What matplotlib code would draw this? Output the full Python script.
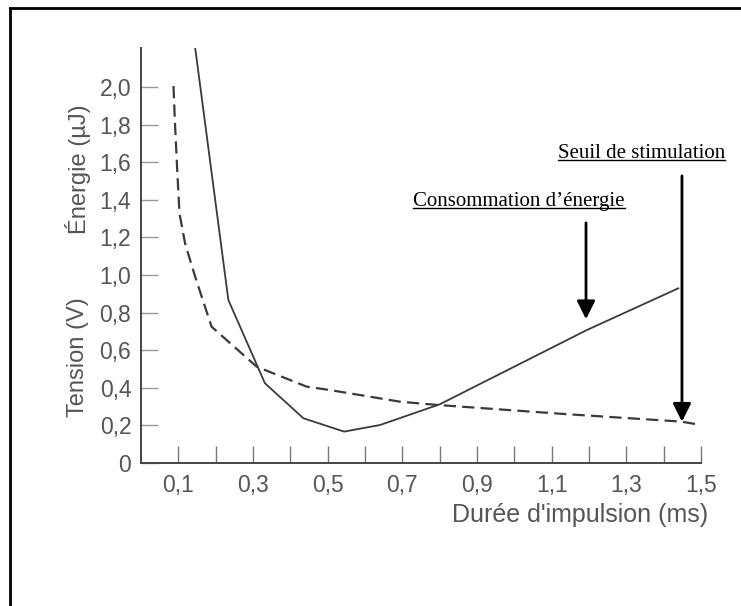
import numpy as np
import matplotlib
matplotlib.use('Agg')
import matplotlib.pyplot as plt
from matplotlib.lines import Line2D

# durée d'impulsion (ms) / valeurs
energie_x = [0.145, 0.234, 0.332, 0.435, 0.544, 0.640, 0.800, 1.194, 1.439]
energie_y = [2.21, 0.867, 0.424, 0.238, 0.167, 0.202, 0.312, 0.707, 0.929]

seuil_x = [0.087, 0.091, 0.097, 0.103, 0.118, 0.145, 0.189, 0.310, 0.444,
           0.506, 0.694, 0.792, 1.131, 1.448, 1.500]
seuil_y = [2.005, 1.807, 1.559, 1.328, 1.169, 0.991, 0.725, 0.512, 0.406,
           0.388, 0.326, 0.309, 0.261, 0.220, 0.202]

x_ticks = [0.1, 0.2, 0.3, 0.4, 0.5, 0.6, 0.7, 0.8, 0.9, 1.0, 1.1, 1.2, 1.3, 1.4, 1.5]
x_labels = ['0,1', '', '0,3', '', '0,5', '', '0,7', '', '0,9', '', '1,1', '', '1,3', '', '1,5']
y_ticks = [0, 0.2, 0.4, 0.6, 0.8, 1.0, 1.2, 1.4, 1.6, 1.8, 2.0]
y_labels = ['0', '0,2', '0,4', '0,6', '0,8', '1,0', '1,2', '1,4', '1,6', '1,8', '2,0']

W, H = 741, 606
fig = plt.figure(figsize=(W / 100, H / 100), dpi=100)
ax = fig.add_axes([141 / W, 1 - 463 / H, 560 / W, (463 - 47.5) / H])

grey = '#3a3a3a'
txt_grey = '#555555'

ax.plot(energie_x, energie_y, color=grey, lw=1.3)
ax.plot(seuil_x, seuil_y, color=grey, lw=1.6, dashes=(5.5, 2.8))

ax.set_xlim(0, 1.5)
ax.set_ylim(0, 2.21)
for s in ['top', 'right']:
    ax.spines[s].set_visible(False)
for s in ['left', 'bottom']:
    ax.spines[s].set_color('#444444')
    ax.spines[s].set_linewidth(1.4)

ax.set_xticks(x_ticks)
ax.set_xticklabels(x_labels)
ax.set_yticks(y_ticks)
ax.set_yticklabels(y_labels)
ax.tick_params(axis='x', direction='in', length=12, width=1, color='#777777',
               pad=8, labelsize=16.5, labelcolor=txt_grey)
ax.tick_params(axis='y', direction='in', length=12, width=1, color='#999999',
               pad=7, labelsize=16.5, labelcolor=txt_grey)
for lab in ax.get_xticklabels() + ax.get_yticklabels():
    lab.set_family('Liberation Sans')

# titres d'axes
ax.text(-0.1125, 0.564, 'Tension (V)', transform=ax.get_yaxis_transform(),
        rotation=90, ha='center', va='center', fontsize=17, color=txt_grey,
        family='Liberation Sans')
ax.text(-0.1125, 1.564, 'Énergie (µJ)', transform=ax.get_yaxis_transform(),
        rotation=90, ha='center', va='center', fontsize=17, color=txt_grey,
        family='Liberation Sans')
ax.text(1.0125, -0.125, "Durée d'impulsion (ms)", transform=ax.transAxes,
        ha='right', va='center', fontsize=18, color=txt_grey,
        family='Liberation Sans')

# fleches
arrow = dict(arrowstyle='-|>,head_length=1.0,head_width=0.5', color='black',
             lw=2, shrinkA=0, shrinkB=0, mutation_scale=11)
x1 = 1.192
ax.annotate('', xy=(x1, np.interp(x1, energie_x, energie_y) + 0.06),
            xytext=(x1, 1.277), arrowprops=arrow, annotation_clip=False)
x2 = 1.449
ax.annotate('', xy=(x2, np.interp(x2, seuil_x, seuil_y)),
            xytext=(x2, 1.527), arrowprops=arrow, annotation_clip=False)

# libelles soulignes
t1 = fig.text(413 / W, 1 - 206 / H, 'Consommation d’énergie', fontsize=15,
              family='Liberation Serif', va='baseline', ha='left')
t2 = fig.text(557.7 / W, 1 - 158 / H, 'Seuil de stimulation', fontsize=15,
              family='Liberation Serif', va='baseline', ha='left')
fig.canvas.draw()
r = fig.canvas.get_renderer()
for t, base in [(t1, 206), (t2, 158)]:
    bb = t.get_window_extent(r)
    yb = H - base - 2
    fig.add_artist(Line2D([bb.x0, bb.x1], [yb, yb], transform=None,
                          color='black', lw=1))

# cadre
fig.add_artist(Line2D([10 / W, 10 / W], [0, 1 - 8 / H], color='black', lw=2))
fig.add_artist(Line2D([10 / W, 1], [1 - 8 / H, 1 - 8 / H], color='black', lw=2))

fig.savefig('out.png', dpi=100)
